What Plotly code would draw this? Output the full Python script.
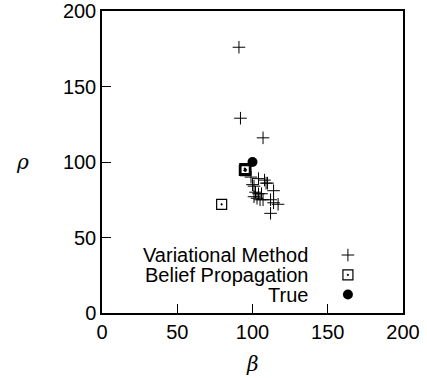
import plotly.graph_objects as go

# ---- data ----
vm_beta = [91, 92, 107, 99, 104, 108, 109, 100, 101, 110, 102, 104, 106, 114,
           101, 103, 105, 107, 112, 114, 117, 112]
vm_rho = [176, 129, 116, 90, 89, 88, 86, 85, 84, 86, 80, 79, 79, 81,
          77, 76, 75, 75, 75, 73, 72, 66]

bp_beta = [79.5, 94.6, 95.2, 95.6, 94.9, 95.4]
bp_rho = [72, 94.4, 95.1, 94.8, 95.6, 94.2]

true_beta = [100]
true_rho = [100]

x_ticks = [0, 50, 100, 150, 200]
y_ticks = [0, 50, 100, 150, 200]

legend_names = ["Variational Method", "Belief Propagation", "True"]

FONT = "Liberation Sans"

fig = go.Figure()

fig.add_trace(go.Scatter(x=vm_beta, y=vm_rho, mode="markers", name=legend_names[0],
                         marker=dict(symbol="cross-thin", size=9, color="black",
                                     line=dict(width=1, color="black")),
                         showlegend=False))
fig.add_trace(go.Scatter(x=bp_beta, y=bp_rho, mode="markers", name=legend_names[1],
                         marker=dict(symbol="square-open-dot", size=10, color="black",
                                     line=dict(width=1.2, color="black")),
                         showlegend=False))
fig.add_trace(go.Scatter(x=true_beta, y=true_rho, mode="markers", name=legend_names[2],
                         marker=dict(symbol="circle", size=10, color="black"),
                         showlegend=False))

# ---- custom legend (text right-aligned, symbol to the right) ----
leg_x = 0.817
leg_y = [0.192, 0.126, 0.061]
leg_txt_x = 0.69
symbols = [("cross-thin", 9, 1), ("square-open-dot", 10, 1.2), ("circle", 10, 0)]
for (sym, sz, lw), yy in zip(symbols, leg_y):
    fig.add_trace(go.Scatter(x=[leg_x], y=[yy], xaxis="x2", yaxis="y2", mode="markers",
                             marker=dict(symbol=sym, size=sz, color="black",
                                         line=dict(width=lw, color="black")),
                             showlegend=False, hoverinfo="skip"))
for name, yy in zip(legend_names, leg_y):
    fig.add_annotation(text=name, x=leg_txt_x, y=yy, xref="paper", yref="paper",
                       xanchor="right", yanchor="middle", showarrow=False,
                       font=dict(family=FONT, size=20, color="black"))

axis_common = dict(showgrid=False, zeroline=False, showline=True, linecolor="black",
                   linewidth=1.5, mirror=True, ticks="inside", ticklen=9,
                   tickwidth=1, tickcolor="black", automargin=False,
                   tickfont=dict(family=FONT, size=20, color="black"))

fig.update_layout(
    width=427, height=378,
    margin=dict(l=102, r=24, t=11, b=65, autoexpand=False),
    paper_bgcolor="white", plot_bgcolor="white",
    xaxis=dict(range=[0, 200], tickvals=x_ticks, **axis_common),
    yaxis=dict(range=[0, 200], tickvals=y_ticks, **axis_common),
    xaxis2=dict(range=[0, 1], overlaying="x", visible=False),
    yaxis2=dict(range=[0, 1], overlaying="y", visible=False),
)

fig.add_annotation(text="<i>β</i>", x=0.5, y=-0.17, xref="paper", yref="paper",
                   xanchor="center", yanchor="middle", showarrow=False,
                   font=dict(family="DejaVu Serif", size=20, color="black"))
fig.add_annotation(text="<i>ρ</i>", x=-0.265, y=0.5, xref="paper", yref="paper",
                   xanchor="center", yanchor="middle", showarrow=False,
                   font=dict(family="DejaVu Serif", size=20, color="black"))

fig.write_html("out.html", config={"displayModeBar": False},
               post_script="document.body.style.margin='0';document.body.style.overflow='hidden';")
